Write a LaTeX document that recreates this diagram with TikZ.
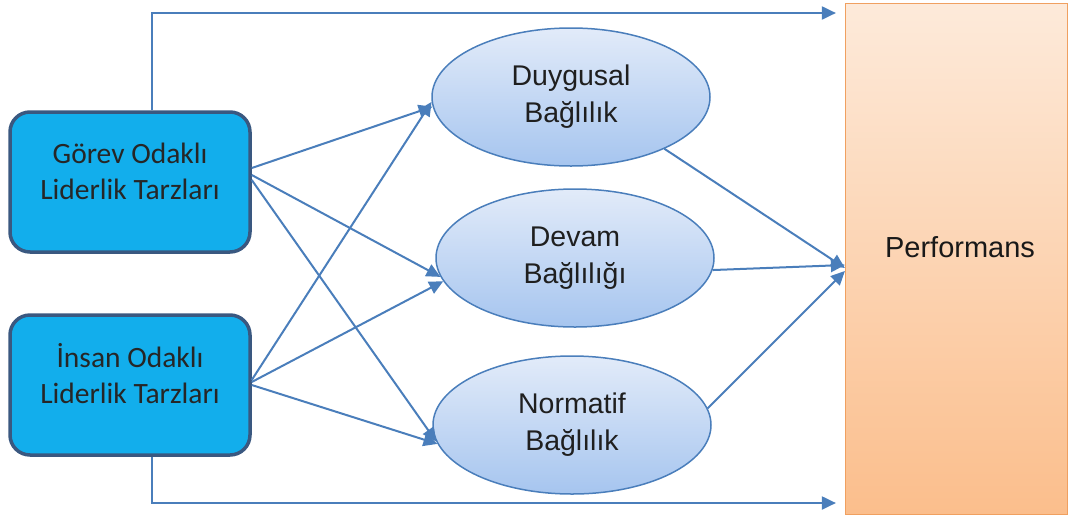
\documentclass[tikz,border=0pt]{standalone}
\usepackage{fontspec}
\setmainfont{Liberation Sans}
\newfontfamily\calibrifont{Carlito}
\usetikzlibrary{shapes.geometric,arrows.meta,shadings}

\definecolor{leadfill}{RGB}{18,174,236}
\definecolor{leadline}{RGB}{58,88,128}
\definecolor{ovaltop}{RGB}{226,235,249}
\definecolor{ovalbot}{RGB}{166,197,239}
\definecolor{ovalline}{RGB}{74,126,187}
\definecolor{perftop}{RGB}{253,234,218}
\definecolor{perfbot}{RGB}{251,190,140}
\definecolor{perfline}{RGB}{240,160,96}
\definecolor{linkcol}{RGB}{74,126,187}

\tikzset{
  leadbox/.style={draw=leadline, line width=3.5pt, fill=leadfill, rounded corners=20pt,
    minimum width=240pt, minimum height=140pt, inner sep=0pt},
  leadtext/.style={font=\calibrifont\fontsize{29.5}{36}\selectfont, align=center, text=black!85},
  oval/.style={ellipse, draw=ovalline, line width=1.5pt, top color=ovaltop, bottom color=ovalbot,
    minimum width=278pt, minimum height=138pt, inner sep=0pt,
    font=\fontsize{28.5}{37}\selectfont, align=center, text=black!88},
  perfbox/.style={draw=perfline, line width=1.2pt, top color=perftop, bottom color=perfbot,
    minimum width=222pt, minimum height=511pt, inner sep=0pt},
  link/.style={draw=linkcol, line width=2pt, -{Triangle[length=14pt,width=13pt]}}
}

\begin{document}
\begin{tikzpicture}[x=1pt,y=-1pt]
  \useasboundingbox (0,0) rectangle (1068,520);

  % leadership styles
  \node[leadbox] (gorev) at (130,182) {};
  \node[leadtext] (gorevtext) at ([yshift=11pt]gorev.center) {Görev Odaklı\\Liderlik Tarzları};
  \node[leadbox] (insan) at (130,385) {};
  \node[leadtext] (insantext) at ([yshift=11pt]insan.center) {İnsan Odaklı\\Liderlik Tarzları};

  % commitment types
  \node[oval] (duy) at (571,97) {Duygusal\\Bağlılık};
  \node[oval] (dev) at (575,258) {Devam\\Bağlılığı};
  \node[oval] (nor) at (572,425) {Normatif\\Bağlılık};

  % outcome
  \node[perfbox] (perf) at (956.5,259) {};
  \node[font=\fontsize{29}{34}\selectfont, text=black!90] (perftext) at (960,247) {Performans};

  % direct paths to performance
  \coordinate (topin) at ([xshift=-9pt]perf.west |- 0,13);
  \coordinate (botin) at ([xshift=-9pt]perf.west |- 0,503);
  \draw[link] ([xshift=22pt]gorev.north) |- (topin);
  \draw[link] ([xshift=22pt]insan.south) |- (botin);

  % leadership to commitment
  \draw[link] ([yshift=14pt]gorev.east) -- (duy.184);
  \draw[link] ([yshift=7pt]gorev.east) -- (dev.188);
  \draw[link] ([yshift=2pt]gorev.east) -- (nor.187);
  \draw[link] ([yshift=5pt]insan.east) -- (duy.182);
  \draw[link] ([yshift=3pt]insan.east) -- (dev.190);
  \draw[link] (insan.east) -- (nor.188);

  % commitment to performance
  \draw[link] (duy.-29) -- ([yshift=-9pt]perf.west);
  \draw[link] (dev.-5) -- ([yshift=-6pt]perf.west);
  \draw[link] (nor.7) -- ([yshift=-12pt]perf.west);
\end{tikzpicture}
\end{document}
